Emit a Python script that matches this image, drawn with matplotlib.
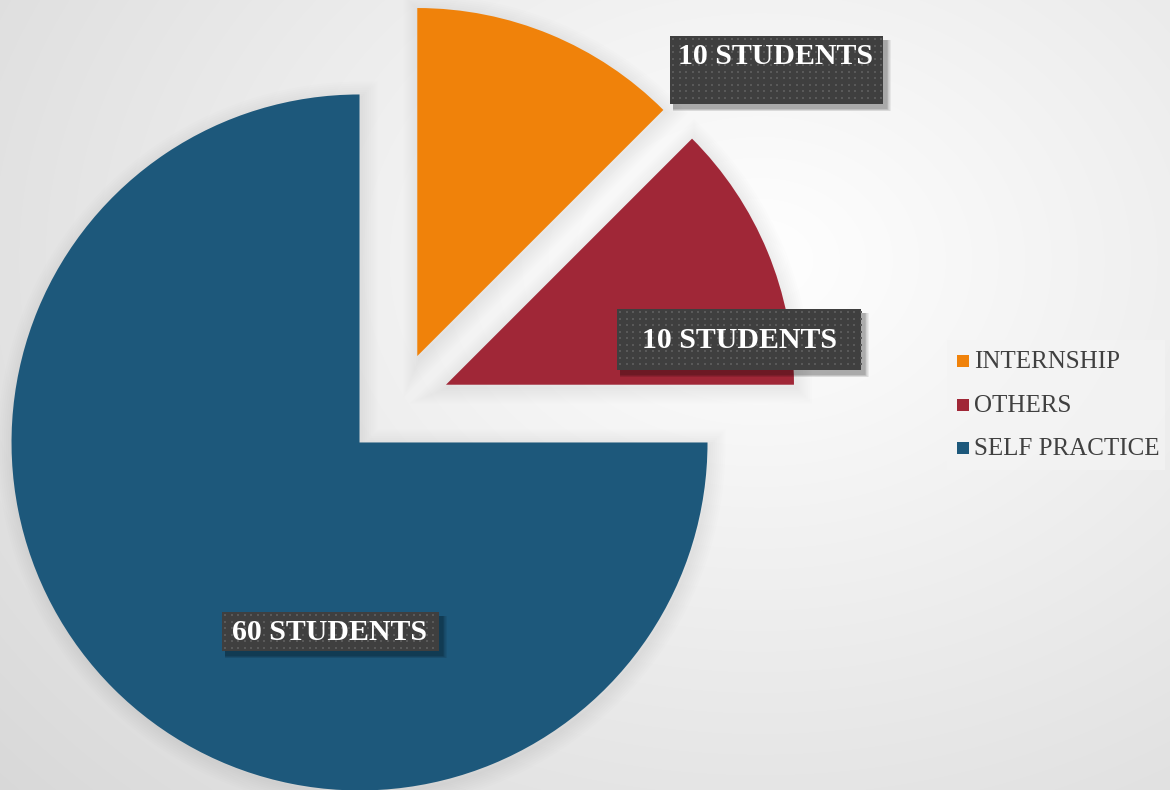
import numpy as np
import matplotlib
matplotlib.use("Agg")
import matplotlib.pyplot as plt
from matplotlib.patches import Rectangle, Wedge

categories = ["INTERNSHIP", "OTHERS", "SELF PRACTICE"]
values = [10, 10, 60]
labels = ["10 STUDENTS", "10 STUDENTS", "60 STUDENTS"]
colors = ["#F0820A", "#A02737", "#1D587B"]

W, H = 1170, 790
fig = plt.figure(figsize=(W / 100, H / 100), dpi=100)
ax = fig.add_axes([0, 0, 1, 1])

# background radial gradient
yy, xx = np.mgrid[0:H, 0:W]
d = np.sqrt(((xx - 760) / 900.0) ** 2 + ((yy - 260) / 700.0) ** 2)
g = 1.0 - 0.16 * np.clip(d, 0, 1.2) / 1.2
bg = np.dstack([g, g, g])
ax.imshow(bg, extent=(0, W, 0, H), origin="upper", zorder=0, aspect="auto")

def py(y):
    return H - y

cx, cy = 397, py(405)
R = 348
expl = 53

# soft shadow for wedges
total = sum(values)
theta = 90.0
for v in values:
    ang = 360.0 * v / total
    t1, t2 = theta - ang, theta
    tm = np.deg2rad((t1 + t2) / 2)
    ox, oy = cx + expl * np.cos(tm), cy + expl * np.sin(tm)
    for lw in range(2, 26, 3):
        ax.add_patch(Wedge((ox + 2, oy - 3), R, t1, t2, facecolor="none",
                           edgecolor="#000000", lw=lw, alpha=0.009, zorder=1))
    theta = t1

wedges, _ = ax.pie(values, colors=colors, startangle=90, counterclock=False,
                   center=(cx, cy), radius=R, explode=[expl] * len(values),
                   wedgeprops=dict(linewidth=0, zorder=2), frame=True)
for w in wedges:
    w.set_zorder(2)

ax.set_xlim(0, W)
ax.set_ylim(0, H)
ax.set_aspect("equal")
ax.axis("off")

# data labels
boxes = [(670, 36, 883, 104, 776, 57), (617, 309, 861, 370, 739, 341),
         (222, 612, 439, 651, 330, 633)]
for lab, (x0, y0, x1, y1, tx, ty) in zip(labels, boxes):
    for k in range(1, 7):
        ax.add_patch(Rectangle((x0 + 3, py(y1) - 4 - k * 0.5), x1 - x0 + k * 0.8,
                               y1 - y0 + k * 0.5, facecolor="#000000",
                               alpha=0.06, lw=0, zorder=3))
    rect = Rectangle((x0, py(y1)), x1 - x0, y1 - y0, facecolor="#3F3F3F",
                     lw=0, zorder=4)
    ax.add_patch(rect)
    gx, gy = np.meshgrid(np.arange(x0 + 3, x1, 6.5), np.arange(y0 + 3, y1, 6.5))
    ax.scatter(gx.ravel(), py(gy.ravel()), s=1.2, marker="s", color="#595959",
               lw=0, zorder=5)
    ax.text(tx, py(ty), lab, ha="center", va="center", color="white",
            fontsize=21.5, fontweight="bold", family="Liberation Serif", zorder=6)

# legend
ax.add_patch(Rectangle((947, py(470)), 218, 130, facecolor="#F4F4F4",
                       alpha=0.7, lw=0, zorder=3))
for i, (c, col) in enumerate(zip(categories, colors)):
    yc = [361, 405, 448][i]
    ax.add_patch(Rectangle((957, py(yc) - 6), 12, 12, facecolor=col, lw=0, zorder=4))
    ax.text(974, py(yc) - 1, c, ha="left", va="center", color="#404040",
            fontsize=18, family="Liberation Serif", zorder=4)

fig.savefig("out.png", dpi=100)
